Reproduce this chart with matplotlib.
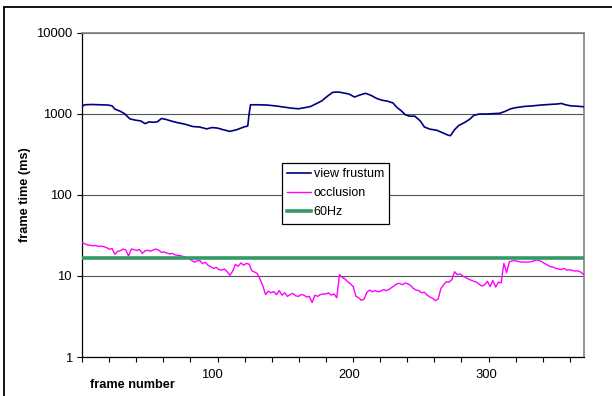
#!/usr/bin/env python3
"""
Frame time per frame: view frustum culling vs occlusion culling vs 60Hz budget
"""

import numpy as np
import matplotlib
matplotlib.use('Agg')
import matplotlib.pyplot as plt
from matplotlib.ticker import FixedLocator, NullLocator, FixedFormatter
from matplotlib.patches import Rectangle

plt.rcParams['font.family'] = ['Liberation Sans', 'DejaVu Sans']

# view frustum frame times (ms)
frustum_frames = [5, 7, 12, 18, 24, 27, 29, 33, 36, 40, 44, 48, 51, 54, 57, 60, 63, 66, 70, 75,
                  80, 86, 91, 96, 100, 104, 108, 113, 118, 123, 126, 127, 128, 134, 140, 146, 152,
                  158, 163, 168, 172, 176, 180, 184, 188, 192, 196, 200, 204, 208, 212, 216, 220,
                  224, 228, 232, 235, 238, 241, 244, 248, 252, 255, 259, 264, 268, 272, 274, 277,
                  280, 284, 288, 291, 295, 300, 305, 310, 314, 318, 322, 328, 334, 340, 346, 352,
                  355, 358, 362, 366, 371]
frustum_ms = [1240, 1300, 1310, 1300, 1290, 1260, 1150, 1080, 1010, 870, 840, 820, 760, 800, 790,
              800, 880, 860, 820, 780, 750, 700, 690, 655, 680, 670, 640, 610, 640, 690, 710, 1000,
              1300, 1300, 1290, 1260, 1220, 1180, 1160, 1200, 1240, 1340, 1450, 1650, 1850, 1870,
              1820, 1760, 1620, 1720, 1800, 1700, 1560, 1480, 1440, 1370, 1200, 1100, 980, 940,
              940, 820, 690, 650, 630, 590, 550, 540, 640, 720, 780, 860, 960, 1000, 1000, 1010,
              1020, 1080, 1160, 1200, 1240, 1260, 1290, 1310, 1330, 1350, 1300, 1260, 1250, 1230]

# occlusion frame times (ms), every second frame
occlusion_frames = list(range(5, 372, 2))
occlusion_ms = [26.0, 25.0, 24.2, 24.0, 23.6, 23.8, 23.2, 23.4, 23.0, 22.4,
                21.4, 21.8, 18.5, 20.2, 20.5, 21.5, 21.0, 17.6, 21.5, 21.2,
                20.6, 21.3, 19.0, 20.4, 20.8, 20.2, 21.0, 21.5, 20.8, 19.6,
                19.8, 19.2, 18.7, 19.0, 18.2, 18.0, 17.8, 17.4, 17.0, 16.5,
                15.6, 14.8, 15.4, 15.5, 14.2, 14.8, 13.6, 13.0, 12.4, 12.8,
                12.0, 11.8, 12.2, 11.3, 10.2, 11.5, 13.9, 13.2, 14.5, 13.6,
                14.3, 14.0, 11.6, 11.2, 10.7, 9.1, 7.6, 5.9, 6.5, 6.2,
                6.4, 5.9, 6.6, 5.8, 6.2, 5.6, 5.9, 6.1, 5.7, 5.6,
                5.9, 5.8, 5.5, 5.6, 4.7, 5.8, 5.6, 5.9, 6.0, 6.0,
                6.2, 5.8, 6.0, 5.4, 10.4, 9.6, 9.2, 8.5, 8.0, 7.4,
                5.6, 5.4, 5.0, 5.2, 6.3, 6.7, 6.4, 6.6, 6.4, 6.5,
                6.8, 6.6, 6.8, 7.2, 7.6, 8.0, 8.1, 7.8, 8.2, 8.0,
                7.6, 7.0, 6.7, 6.6, 6.2, 6.3, 5.8, 5.5, 5.3, 4.95,
                5.2, 7.0, 7.8, 8.5, 8.4, 9.0, 11.3, 10.4, 10.6, 10.0,
                9.6, 9.2, 8.9, 8.6, 8.4, 7.9, 7.5, 7.8, 8.6, 7.4,
                8.8, 7.3, 8.4, 8.2, 14.3, 11.0, 15.0, 15.3, 15.5, 15.2,
                14.9, 14.9, 14.8, 14.9, 15.0, 15.4, 15.8, 15.5, 14.9, 14.2,
                13.6, 13.0, 12.9, 12.4, 12.2, 12.0, 12.4, 11.8, 11.9, 11.7,
                11.5, 11.6, 11.2, 10.5]

# 60Hz budget line
hz60_frames = [5, 371.5]
hz60_ms = [16.67, 16.67]

y_ticks = [1, 10, 100, 1000, 10000]
y_labels = ['1', '10', '100', '1000', '10000']
x_ticks = [100, 200, 300]
x_labels = ['100', '200', '300']


def make_chart():
    fig = plt.figure(figsize=(6.12, 3.96), dpi=100)
    ax = fig.add_axes([82 / 612, 1 - 357 / 396, 502 / 612, 324 / 396])

    ax.plot(frustum_frames, frustum_ms, color='#000080', lw=1.2, label='view frustum', zorder=3)
    ax.plot(occlusion_frames, occlusion_ms, color='#FF00FF', lw=1.0, label='occlusion', zorder=3)
    ax.plot(hz60_frames, hz60_ms, color='#339966', lw=2.6, label='60Hz', zorder=4)

    ax.set_yscale('log')
    ax.set_ylim(1, 10000)
    ax.set_xlim(5, 371.5)

    ax.yaxis.set_major_locator(FixedLocator(y_ticks))
    ax.yaxis.set_major_formatter(FixedFormatter(y_labels))
    ax.yaxis.set_minor_locator(NullLocator())
    ax.xaxis.set_major_locator(FixedLocator(x_ticks))
    ax.xaxis.set_major_formatter(FixedFormatter(x_labels))
    ax.xaxis.set_minor_locator(FixedLocator(np.arange(5, 371, 19.79)))

    ax.tick_params(axis='y', which='major', length=3.6, width=0.8, pad=3.6,
                   labelsize=9.4, color='black')
    ax.tick_params(axis='x', which='major', length=0, pad=8.5, labelsize=9.4)
    ax.tick_params(axis='x', which='minor', length=3.3, width=0.8, color='black')

    ax.grid(axis='y', which='major', color='#555555', lw=0.8, zorder=1)
    ax.set_axisbelow(True)

    for side in ['top', 'right']:
        ax.spines[side].set_color('#808080')
        ax.spines[side].set_linewidth(1.2)
    for side in ['left', 'bottom']:
        ax.spines[side].set_color('black')
        ax.spines[side].set_linewidth(0.9)

    fig.text(25 / 612, 1 - 195 / 396, 'frame time (ms)', rotation=90, ha='center', va='center',
             fontsize=9.2, fontweight='bold')
    fig.text(90 / 612, 1 - 385 / 396, 'frame number', ha='left', va='center',
             fontsize=9.2, fontweight='bold')

    leg = ax.legend(loc='upper left', bbox_to_anchor=(281.7 / 612, 1 - 162.7 / 396),
                    bbox_transform=fig.transFigure, borderaxespad=0, fontsize=9.0,
                    fancybox=False, framealpha=1, edgecolor='black', handlelength=1.9,
                    handletextpad=0.2, labelspacing=0.55, borderpad=0.45)
    leg.get_frame().set_linewidth(0.9)

    # outer chart border (runs off the right and bottom edges)
    fig.patches.append(Rectangle((4 / 612, -0.1), 1.2, 1 - 7 / 396 + 0.1, transform=fig.transFigure,
                                 fill=False, edgecolor='black', lw=1.3))

    fig.savefig('out.png', dpi=100, facecolor='white')


if __name__ == "__main__":
    make_chart()
